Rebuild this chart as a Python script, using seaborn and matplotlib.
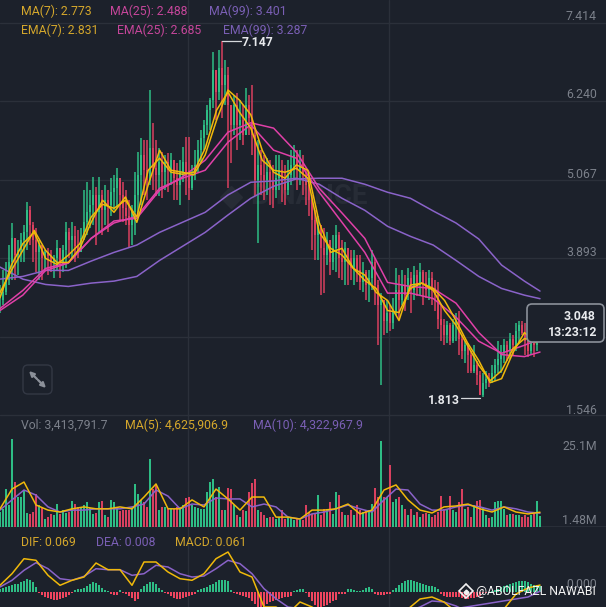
import numpy as np
import pandas as pd
import matplotlib.pyplot as plt
import seaborn as sns
from matplotlib.patches import FancyBboxPatch

# candles, one every 3 px
closes = [3.26,3.38,3.56,3.83,4.19,3.94,4.01,4.16,4.28,4.61,4.39,4.16,3.98,4.09,3.89,3.98,3.92,3.83,3.89,4.04,
          3.83,4.01,4.28,4.16,4.22,4.07,3.98,4.19,4.43,4.58,4.69,4.84,4.58,4.84,4.61,4.76,4.69,4.88,4.94,5.09,
          4.84,4.64,4.53,4.39,4.58,4.84,5.14,5.44,5.21,5.06,5.54,5.24,5.14,5.33,5.18,5.33,5.21,5.36,5.09,4.99,
          5.18,5.33,5.12,4.94,5.14,5.29,5.51,5.69,5.89,6.11,6.26,6.71,6.38,6.74,6.49,6.64,6.19,5.89,6.19,5.89,
          5.96,5.74,6.19,5.99,5.74,5.06,5.29,5.14,5.06,5.18,5.03,4.91,5.09,5.21,5.03,4.91,5.14,5.29,5.44,5.21,
          5.33,5.14,4.99,4.76,4.46,4.24,4.39,4.04,3.94,4.16,3.83,4.04,4.24,3.89,3.83,4.04,3.89,3.74,3.89,3.71,
          3.53,3.68,3.49,3.59,3.83,3.49,3.19,3.26,2.96,3.08,2.93,3.11,3.41,3.26,3.49,3.34,3.59,3.41,3.64,3.49,
          3.68,3.52,3.41,3.59,3.44,3.34,2.99,2.89,2.74,2.89,2.66,2.89,2.96,2.69,2.51,2.59,2.44,2.21,2.29,2.14,
          1.84,2.03,2.09,2.06,2.18,2.29,2.39,2.48,2.59,2.51,2.69,2.59,2.81,2.89,2.78,2.66,2.51,2.69,2.59,2.81,3.048]
highs = [3.49,3.71,3.83,4.09,4.42,4.12,4.16,4.27,4.39,4.73,4.67,4.43,4.34,4.16,4.01,4.01,4.04,4.01,3.94,4.16,
         3.94,4.09,4.43,4.34,4.43,4.37,4.31,4.34,4.91,5.03,4.91,5.11,4.96,5.11,4.91,4.99,4.91,5.09,5.14,5.24,
         5.06,5.03,4.91,4.76,4.69,5.18,5.48,5.69,5.66,5.66,6.41,5.92,5.66,5.54,5.48,5.44,5.47,5.47,5.36,5.32,
         5.36,5.56,5.71,5.71,5.29,5.51,5.66,5.81,5.96,6.19,6.29,6.98,6.61,7.01,7.147,6.86,6.76,6.19,6.34,6.37,
         6.26,6.19,6.44,6.34,6.49,5.81,5.66,5.51,5.44,5.39,5.36,5.29,5.44,5.44,5.36,5.29,5.36,5.51,5.59,5.51,
         5.51,5.44,5.21,5.14,4.84,4.61,4.53,4.39,4.34,4.28,4.16,4.24,4.39,4.28,4.16,4.13,4.01,4.01,4.01,3.94,
         3.94,3.83,3.71,3.71,4.01,3.89,3.56,3.37,3.26,3.26,3.19,3.29,3.74,3.64,3.71,3.64,3.74,3.68,3.77,3.71,
         3.82,3.71,3.68,3.71,3.68,3.56,3.53,3.19,2.99,2.96,2.93,2.99,3.08,3.11,2.74,2.66,2.63,2.51,2.59,2.36,
         2.21,2.18,2.21,2.18,2.29,2.39,2.66,2.59,2.69,2.66,2.78,2.74,2.92,2.96,2.96,2.93,2.89,2.89,2.74,3.07,3.07]
lows = [3.08,3.19,3.34,3.49,3.56,3.56,3.64,3.83,3.83,4.01,4.09,3.83,3.68,3.56,3.56,3.71,3.64,3.68,3.59,3.71,
        3.59,3.68,3.74,3.89,3.89,3.83,3.89,3.98,4.16,4.24,4.34,4.39,4.09,4.28,4.24,4.39,4.28,4.53,4.61,4.64,
        4.46,4.43,4.39,4.04,4.09,4.24,4.53,4.69,4.84,4.76,4.99,4.91,4.82,4.82,4.79,4.91,4.88,4.99,4.76,4.76,
        4.69,5.03,4.84,4.76,4.91,5.06,5.18,5.33,5.51,5.74,5.81,6.14,5.96,6.26,5.99,6.19,4.94,5.32,5.74,5.51,
        5.66,5.59,5.81,5.74,5.44,4.82,4.12,4.84,4.76,4.84,4.69,4.64,4.79,4.91,4.73,4.69,4.84,4.99,5.06,4.91,
        4.99,4.84,4.69,4.53,4.01,3.86,3.86,3.34,3.37,3.79,3.64,3.71,3.68,3.59,3.56,3.49,3.49,3.56,3.49,3.53,
        3.41,3.38,3.26,3.23,3.41,3.19,2.59,1.99,2.74,2.78,2.81,2.84,3.04,2.99,3.19,3.11,3.26,3.08,3.26,3.32,
        3.34,3.19,3.29,3.26,3.19,3.11,2.84,2.66,2.59,2.63,2.59,2.62,2.66,2.44,2.39,2.33,2.18,2.18,2.18,1.99,
        1.85,1.813,1.94,1.97,2.03,2.06,2.18,2.18,2.33,2.36,2.39,2.44,2.51,2.63,2.74,2.44,2.42,2.44,2.42,2.51,2.74]
volumes = [4.7,5.7,11.9,6.9,27.6,14.1,9.4,9.4,11.6,4.4,4.1,4.7,10.4,6.9,6.3,2.5,3.1,4.1,3.8,7.2,
           4.1,5.3,4.4,4.7,8.2,7.2,6.3,6.3,6.9,7.9,6.0,4.1,4.4,7.9,8.2,3.8,3.1,8.5,7.9,6.3,
           5.0,5.3,5.3,5.3,6.3,13.5,10.4,8.5,7.9,6.3,21.4,11.9,13.5,5.3,6.3,6.3,5.7,6.0,5.7,6.3,
           6.3,6.9,9.1,9.4,6.9,6.3,6.0,5.7,5.7,11.0,14.1,15.1,9.4,12.6,5.3,5.3,12.2,11.9,6.9,3.8,
           3.1,5.3,5.0,11.0,13.8,15.1,5.3,4.7,3.8,2.8,3.1,3.1,2.5,3.1,5.3,2.5,3.1,3.1,2.2,2.5,
           2.2,2.2,6.9,4.7,4.1,4.1,10.0,3.8,5.7,5.7,7.9,4.1,11.0,10.0,4.7,3.8,3.8,5.3,3.8,6.9,
           5.3,4.7,5.3,5.3,7.2,12.2,9.4,27.0,9.4,9.4,19.5,7.9,8.8,9.4,6.9,5.7,3.8,5.7,3.8,4.7,
           3.1,4.1,4.4,4.1,3.1,3.8,4.7,9.7,5.7,5.3,9.7,5.3,4.7,7.9,11.9,5.7,6.3,3.1,6.9,8.2,
           8.5,6.3,3.8,2.8,3.1,7.9,8.2,8.2,5.7,3.8,4.1,4.1,3.8,3.8,3.1,3.8,3.1,3.8,4.4,8.2,3.41]
macd_hist = [.03,.04,.05,.06,.07,.08,.08,.10,.11,.13,.12,.10,.05,
             -.01,-.03,-.05,-.06,-.07,-.08,-.08,-.07,-.06,-.05,-.03,-.01,
             .02,.03,.03,.04,.06,.08,.10,.09,.07,.04,.02,.01,
             -.02,-.03,-.03,.02,-.01,-.02,-.04,-.06,-.09,-.07,
             .03,.06,.08,.10,.10,.08,.04,.02,
             -.01,-.02,-.04,-.06,-.07,-.07,-.06,-.05,-.04,-.03,-.02,
             .02,.03,.04,.05,.07,.08,.10,.12,.12,.12,.11,.02,
             -.01,-.02,-.03,-.04,-.05,-.06,-.09,-.12,-.15,-.15,-.14,-.12,-.10,-.09,-.08,-.07,-.06,-.05,-.05,-.04,
             .01,.02,.03,.03,
             -.01,-.05,-.09,-.13,-.15,-.15,-.14,-.13,-.11,-.09,-.08,
             -.02,-.02,-.02,.03,.03,.02,.01,.01,.02,.04,.05,.03,
             -.02,-.03,-.03,-.03,-.02,-.02,
             .02,.04,.07,.09,.11,.12,.12,.11,.10,.09,.08,.07,.06,.06,.05,.03,
             -.02,-.04,-.05,-.05,-.05,-.05,-.05,-.06,-.07,-.07,-.06,-.06,-.05,-.04,
             -.01,-.01,-.01,.01,
             .02,.03,.05,.06,.07,.08,.09,.10,.11,.11,.11,.10,.08,.07,.07,.061]

fast_idx = np.append(np.arange(48) * 3.8, 180)
ma7 = [3.38,3.71,4.01,4.31,4.01,3.83,3.83,4.04,4.43,4.76,4.58,4.81,4.43,4.99,5.51,5.21,5.18,5.14,5.44,5.96,6.41,6.26,6.04,5.51,5.18,
       5.09,5.29,5.21,4.43,3.98,4.04,3.74,3.64,3.38,3.26,2.96,3.49,3.52,3.44,3.26,2.96,2.63,2.36,2.03,2.09,2.48,2.78,2.63,2.773]
ema7 = [3.30,3.79,4.11,4.28,3.89,3.80,3.94,4.11,4.51,4.70,4.64,4.76,4.51,5.21,5.39,5.18,5.15,5.18,5.54,6.11,6.38,6.08,5.84,5.36,5.21,
        5.18,5.24,5.09,4.28,4.04,3.94,3.74,3.56,3.44,3.11,3.08,3.44,3.52,3.41,3.11,2.89,2.59,2.29,2.06,2.21,2.54,2.69,2.66,2.831]
slow_idx = np.append(np.arange(24) * 7.6, 180)
ma25 = [3.14,3.41,3.74,3.83,4.19,4.45,4.49,4.91,5.11,5.36,5.78,5.92,5.84,5.48,4.94,4.57,4.19,3.53,3.47,3.44,3.22,2.78,2.45,2.42,2.488]
ema25 = [3.11,3.34,3.71,3.82,4.19,4.42,4.52,4.94,5.09,5.21,5.63,5.89,5.51,5.39,4.88,4.43,3.98,3.37,3.37,3.29,3.01,2.65,2.47,2.59,2.685]
ma99 = [3.76,3.58,3.50,3.47,3.52,3.55,3.62,3.86,4.07,4.28,4.54,4.79,4.97,5.08,5.09,5.09,5.00,4.88,4.79,4.60,4.42,4.18,3.79,3.55,3.401]
ema99 = [3.58,3.62,3.71,3.71,3.85,3.98,4.09,4.28,4.43,4.58,4.84,5.03,5.05,5.09,5.00,4.79,4.61,4.37,4.22,4.09,3.86,3.62,3.44,3.34,3.287]

sub_idx = np.arange(0, 181, 4)
vol_ma5 = [5.7,11.9,14.1,6.9,5.3,4.7,5.7,6.3,5.7,5.7,6.3,5.7,9.4,13.5,5.7,5.7,8.5,6.3,11.9,8.8,5.3,9.4,9.4,3.1,3.1,2.5,
           5.3,5.3,5.7,7.2,4.1,5.3,11.6,13.2,8.5,5.3,4.4,6.3,6.6,7.2,5.7,4.7,6.3,4.7,4.1,4.626]
vol_ma10 = [5.3,8.5,11.6,10.0,6.3,4.7,5.3,5.3,5.7,5.7,5.7,6.3,7.2,11.6,9.7,5.7,7.2,6.9,9.1,8.8,8.8,6.3,7.2,6.3,3.1,2.5,
            4.1,4.7,5.7,6.9,5.7,4.7,8.5,11.9,11.6,7.2,5.3,5.3,6.3,6.9,6.3,5.3,6.3,5.7,4.7,4.323]
dif = [.067,.183,.333,.317,.167,.067,.117,.15,.29,.223,.223,.067,.30,.30,.20,.133,.117,.183,.333,.40,.20,.15,-.15,-.15,-.217,-.10,
       -.15,-.22,-.25,-.25,-.25,-.23,-.20,-.20,-.17,-.07,-.05,-.10,-.20,-.25,-.27,-.28,-.17,-.02,.04,.069]
dea = [.05,.117,.217,.293,.233,.133,.117,.157,.233,.223,.223,.167,.183,.267,.25,.183,.15,.16,.233,.317,.283,.183,.033,-.067,-.15,-.167,
       -.19,-.20,-.22,-.23,-.24,-.24,-.22,-.21,-.19,-.15,-.09,-.10,-.14,-.20,-.24,-.26,-.24,-.16,-.05,.008]

price_ticks = [7.414, 6.240, 5.067, 3.893, 2.720, 1.546]
price_labels = ['7.414', '6.240', '5.067', '3.893', '', '1.546']

BG = '#1c212b'
GRID = '#2b303a'
GREEN = '#2ebd85'
RED = '#d8405f'
YELLOW = '#f0b90b'
PINK = '#e040a8'
PURPLE = '#8a63c9'
GREY = '#7b808a'

sns.set_theme(style='dark', rc={'axes.facecolor': BG, 'figure.facecolor': BG})
plt.rcParams['font.family'] = ['Roboto', 'DejaVu Sans']

W, H = 606, 607
fig = plt.figure(figsize=(6.06, 6.07), dpi=100)


def panel(top, bottom):
    a = fig.add_axes([0, 1 - bottom / H, 1, (bottom - top) / H])
    a.patch.set_visible(False)
    return a


ax = panel(0, 417)
ax_vol = panel(417, 527)
ax_macd = panel(527, 607)

idx = np.arange(len(closes))
opens = [closes[0]] + closes[:-1]
colors = [GREEN if c >= o else RED for o, c in zip(opens, closes)]
direction = ['up' if c >= o else 'down' for o, c in zip(opens, closes)]
palette = {'up': GREEN, 'down': RED}

# grid
for p in price_ticks:
    ax.axhline(p, color=GRID, lw=1, zorder=0)
ax_vol.axhline(0, color=GRID, lw=2, zorder=0)
for a in [ax, ax_vol, ax_macd]:
    a.axvline(188 / 3, color=GRID, lw=1, zorder=0)
    a.axvline(389 / 3, color=GRID, lw=1, zorder=0)

ax.text(103, 4.81, 'BINANCE', color='#272c36', fontsize=20, fontweight='bold',
        ha='center', va='center', zorder=0)
ax.plot(77, 4.81, marker='D', ms=11, color='#272c36', zorder=0)

# candles
ax.vlines(idx, lows, highs, colors=colors, lw=1.1, zorder=2)
ax.bar(idx, np.array(closes) - np.array(opens), bottom=opens, width=0.72, color=colors,
       edgecolor='none', linewidth=0, zorder=2)

for vals, xs, col in [(ma99, slow_idx, PURPLE), (ema99, slow_idx, PURPLE),
                      (ma25, slow_idx, PINK), (ema25, slow_idx, PINK),
                      (ma7, fast_idx, YELLOW), (ema7, fast_idx, YELLOW)]:
    sns.lineplot(x=xs, y=vals, color=col, lw=1.1, ax=ax, zorder=3, errorbar=None)

# volume
vol_df = pd.DataFrame({'i': idx, 'vol': volumes, 'dir': direction})
sns.barplot(data=vol_df, x='i', y='vol', hue='dir', palette=palette, native_scale=True, dodge=False,
            legend=False, width=0.72, saturation=1, linewidth=0, edgecolor='none', ax=ax_vol, zorder=2)
sns.lineplot(x=sub_idx, y=vol_ma10, color=PURPLE, lw=1.1, ax=ax_vol, zorder=3, errorbar=None)
sns.lineplot(x=sub_idx, y=vol_ma5, color=YELLOW, lw=1.1, ax=ax_vol, zorder=4, errorbar=None)

# macd
macd_df = pd.DataFrame({'i': idx, 'hist': macd_hist,
                        'dir': ['up' if v >= 0 else 'down' for v in macd_hist]})
sns.barplot(data=macd_df, x='i', y='hist', hue='dir', palette={'up': GREEN, 'down': '#f0455f'},
            native_scale=True, dodge=False, legend=False, width=0.95, saturation=1, linewidth=0,
            edgecolor='none', ax=ax_macd, zorder=2)
sns.lineplot(x=sub_idx, y=dea, color=PURPLE, lw=1.1, ax=ax_macd, zorder=3, errorbar=None)
sns.lineplot(x=sub_idx, y=dif, color=YELLOW, lw=1.1, ax=ax_macd, zorder=4, errorbar=None)

for a in [ax, ax_vol, ax_macd]:
    a.set_xlim(0, W / 3)
    a.set_axis_off()
ax.set_ylim(1.516, 7.758)
ax_vol.set_ylim(0, 34.5)
ax_macd.set_ylim(-0.15, 0.65)

# overlay in pixel coordinates for the text and widgets
ov = fig.add_axes([0, 0, 1, 1], zorder=10)
ov.set_xlim(0, W)
ov.set_ylim(H, 0)
ov.set_axis_off()
ov.patch.set_visible(False)

TXT_Y = '#d4a72c'
TXT_P = '#c5469a'
TXT_V = '#7a5fb5'
FS = 8.8
headers = [(21, 11, 'MA(7): 2.773', TXT_Y), (110, 11, 'MA(25): 2.488', TXT_P), (209, 11, 'MA(99): 3.401', TXT_V),
           (21, 30, 'EMA(7): 2.831', TXT_Y), (117, 30, 'EMA(25): 2.685', TXT_P), (223, 30, 'EMA(99): 3.287', TXT_V),
           (21, 425, 'Vol: 3,413,791.7', GREY), (125, 425, 'MA(5): 4,625,906.9', TXT_Y), (253, 425, 'MA(10): 4,322,967.9', TXT_V),
           (21, 542, 'DIF: 0.069', TXT_Y), (96, 542, 'DEA: 0.008', TXT_V), (175, 542, 'MACD: 0.061', TXT_Y)]
for x, y, s, c in headers:
    ov.text(x, y, s, color=c, fontsize=FS, va='center', ha='left')

for y, s in zip([16, 95, 174, 252, 410], [l for l in price_labels if l]):
    ov.text(597, y, s, color=GREY, fontsize=FS, va='center', ha='right')
for y, s in [(447, '25.1M'), (520, '1.48M'), (585, '0.000')]:
    ov.text(597, y, s, color=GREY, fontsize=FS, va='center', ha='right')

# high / low markers
ov.plot([222, 241], [41, 41], color='#d5d8dc', lw=0.9)
ov.text(242, 42, '7.147', color='#e8eaed', fontsize=FS, fontweight='bold', va='center', ha='left')
ov.plot([461, 480], [398, 398], color='#d5d8dc', lw=0.9)
ov.text(460, 400, '1.813', color='#e8eaed', fontsize=FS, fontweight='bold', va='center', ha='right')

# current price box
ov.add_patch(FancyBboxPatch((529, 306), 73, 34, boxstyle='round,pad=2,rounding_size=5',
                            fc=BG, ec='#8b9099', lw=1.2))
ov.text(595, 317, '3.048', color='#e8eaed', fontsize=FS, fontweight='bold', va='center', ha='right')
ov.text(597, 332, '13:23:12', color='#e8eaed', fontsize=FS, fontweight='bold', va='center', ha='right')

# expand button
ov.add_patch(FancyBboxPatch((25, 367), 25, 25, boxstyle='round,pad=2,rounding_size=5',
                            fc=BG, ec='#333844', lw=1))
arrow = dict(arrowstyle='-|>', color='#8b9099', lw=1.6, shrinkA=0, shrinkB=0, mutation_scale=7)
ov.annotate('', xy=(29, 371), xytext=(37, 379), arrowprops=arrow)
ov.annotate('', xy=(46, 388), xytext=(38, 380), arrowprops=arrow)

# watermark
ov.plot(466, 591, marker='D', ms=7, mfc='none', mec='#f2f2f2', mew=1.2)
ov.plot(466, 592, marker='D', ms=2.5, color='#f2f2f2')
ov.text(476, 591, '@ABOLFAZL NAWABI', color='#f2f2f2', fontsize=8.8, va='center', ha='left')

fig.savefig('out.png', dpi=100, facecolor=BG)
